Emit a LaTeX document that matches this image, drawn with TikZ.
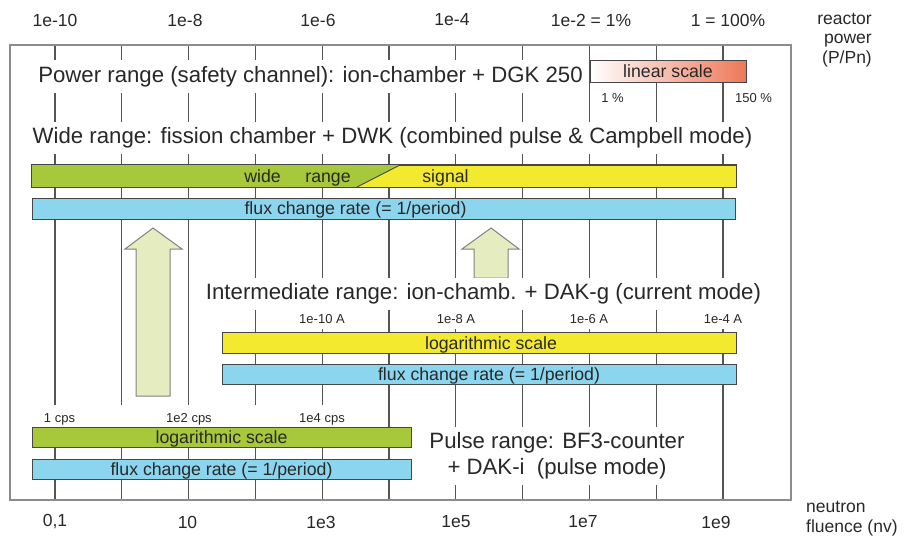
\documentclass[tikz,border=0pt]{standalone}
\usepackage{fontspec}
\setmainfont{Liberation Sans}
\usepackage{tikz}

\definecolor{gridgray}{RGB}{85,85,85}
\definecolor{framegray}{RGB}{140,140,140}
\definecolor{bargray}{RGB}{70,70,70}
\definecolor{textgray}{RGB}{40,40,40}
\definecolor{rangegreen}{RGB}{166,200,58}
\definecolor{sigyellow}{RGB}{243,234,48}
\definecolor{fluxblue}{RGB}{140,213,238}
\definecolor{arrowfill}{RGB}{228,236,192}
\definecolor{arrowgray}{RGB}{130,130,130}
\definecolor{scalered}{RGB}{238,120,88}

\begin{document}
\begin{tikzpicture}[x=1pt, y=-1pt, text=textgray,
    gridline/.style={draw=gridgray, line width=1.2pt},
    bar/.style={draw=bargray, line width=0.9pt, inner sep=0pt, minimum height=21pt,
      text height=12.7pt, text depth=0pt, font={\fontsize{17.7}{20}\selectfont}},
    bartext/.style={inner sep=0pt, text height=12.7pt, text depth=0pt,
      font={\fontsize{17.7}{20}\selectfont}},
    heading/.style={fill=white, inner xsep=2pt, inner ysep=6pt,
      font={\fontsize{22.2}{26}\selectfont}},
    axislabel/.style={inner sep=1pt, font={\fontsize{17.5}{19.5}\selectfont}},
    smalllabel/.style={fill=white, inner xsep=1pt, inner ysep=5pt,
      font={\fontsize{13}{15}\selectfont}},
    blockarrow/.style={fill=arrowfill, draw=arrowgray, line width=1pt}]
  \useasboundingbox (0,0) rectangle (907,538);

  % grid and frame
  \foreach \k in {0,...,10}
    \draw[gridline] ({55+66.8*\k},45) -- ({55+66.8*\k},500);
  \draw[framegray, line width=1.5pt] (10,45) rectangle (791,500);

  % axis labels
  \node[axislabel] (p10) at (55,20) {1e-10};
  \node[axislabel] (p8) at (185,20) {1e-8};
  \node[axislabel] (p6) at (318,20) {1e-6};
  \node[axislabel] (p4) at (452,20) {1e-4};
  \node[axislabel] (p2) at (591,20) {1e-2 = 1\%};
  \node[axislabel] (p0) at (728,20) {1 = 100\%};
  \node[axislabel, anchor=east, align=right] (powertitle) at (873,40) {reactor\\power\\(P/Pn)};
  \node[axislabel] (n01) at (55,522) {0,1};
  \node[axislabel] (n1) at (187.5,522) {10};
  \node[axislabel] (n3) at (321,522) {1e3};
  \node[axislabel] (n5) at (456,522) {1e5};
  \node[axislabel] (n7) at (583,522) {1e7};
  \node[axislabel] (n9) at (716,522) {1e9};
  \node[axislabel, anchor=west, align=left] (fluencetitle) at (805,518.5) {neutron\\fluence (nv)};

  % power range
  \node[heading, inner ysep=6.5pt] (powerrange) at (310.5,76.5) {Power range (safety channel): ion-chamber + DGK 250};
  \node[bar, minimum width=156pt, minimum height=22pt, left color=white, right color=scalered] (linscale) at (668,71) {linear scale};
  \node[smalllabel, fill=none] (pct1) at (612.5,98) {1 \%};
  \node[smalllabel, fill=none] (pct150) at (753.5,98) {150 \%};

  % wide range
  \node[heading, inner ysep=5.5pt] (widerange) at (392.5,138) {Wide range: fission chamber + DWK (combined pulse \& Campbell mode)};
  \node[bar, fill=sigyellow, minimum width=704pt, minimum height=22pt] (widebar) at (384,176) {};
  \fill[rangegreen] (widebar.north west) -- (400,165) -- (357,187) -- (widebar.south west) -- cycle;
  \draw[bargray, line width=0.9pt] (357,187) -- (400,165);
  \draw[bargray, line width=0.9pt] (widebar.north west) rectangle (widebar.south east);
  \node[bartext] (widetext) at (262.5,176) {wide};
  \node[bartext] (rangetext) at (328,176) {range};
  \node[bartext] (signaltext) at (445.5,176) {signal};
  \node[bar, fill=fluxblue, minimum width=703pt] (wideflux) at (383.5,208.5) {};
  \node[bartext] (widefluxtext) at (355.5,208.5) {flux change rate (= 1/period)};

  % arrows
  \draw[blockarrow] (136,396) -- (136,249) -- (125,249) -- (153,228) -- (182,249) -- (170,249) -- (170,396) -- cycle;
  \draw[blockarrow] (474,278) -- (474,249) -- (462,249) -- (491,228) -- (519,249) -- (508,249) -- (508,278) -- cycle;

  % intermediate range
  \node[heading] (interrange) at (483.5,294) {Intermediate range: ion-chamb. + DAK-g (current mode)};
  \node[smalllabel] (a10) at (322,319) {1e-10 A};
  \node[smalllabel] (a8) at (456,319) {1e-8 A};
  \node[smalllabel] (a6) at (589,319) {1e-6 A};
  \node[smalllabel] (a4) at (723,319) {1e-4 A};
  \node[bar, fill=sigyellow, minimum width=514pt] (interlog) at (479,343) {};
  \node[bartext] (interlogtext) at (491,343) {logarithmic scale};
  \node[bar, fill=fluxblue, minimum width=514pt, minimum height=20pt] (interflux) at (479,374) {};
  \node[bartext] (interfluxtext) at (489,374) {flux change rate (= 1/period)};

  % pulse range
  \fill[white] (32,405) rectangle (350,427);
  \node[smalllabel, fill=none] (cps0) at (59.5,419) {1 cps};
  \node[smalllabel, fill=none] (cps2) at (189,419) {1e2 cps};
  \node[smalllabel, fill=none] (cps4) at (322,419) {1e4 cps};
  \node[bar, fill=rangegreen, minimum width=379pt, minimum height=20pt] (pulselog) at (221.5,437) {logarithmic scale};
  \node[bar, fill=fluxblue, minimum width=379pt, minimum height=20pt] (pulseflux) at (221.5,469) {flux change rate (= 1/period)};
  \node[heading, align=center] (pulserange) at (557,456) {Pulse range: BF3-counter\\+ DAK-i\ \ (pulse mode)};
\end{tikzpicture}
\end{document}
